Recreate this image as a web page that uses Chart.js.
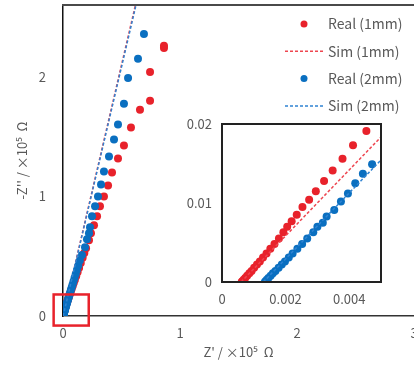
<!DOCTYPE html>
<html>
<head>
<meta charset="utf-8">
<script src="https://cdn.jsdelivr.net/npm/chart.js@4"></script>
<style>
  html, body { margin: 0; padding: 0; overflow: hidden; background: #fff; }
  #mainChart { position: absolute; left: 0; top: 0; }
  #insetChart { position: absolute; left: 170px; top: 110px; }
</style>
</head>
<body>
<canvas id="mainChart" width="440" height="372"></canvas>
<canvas id="insetChart" width="220" height="200"></canvas>
<script>
// values in units of 1e5 ohm
const real1X = [0.00062, 0.00064, 0.00068, 0.00073, 0.00079, 0.00086, 0.00093, 0.00101, 0.00110, 0.00119,
  0.00129, 0.00140, 0.00152, 0.00165, 0.00179, 0.00193, 0.00205, 0.00219, 0.00235, 0.00253,
  0.00274, 0.00295, 0.00321, 0.00348, 0.00379, 0.00412, 0.00454,
  0.00506, 0.00561, 0.00621, 0.00690, 0.00766, 0.00849, 0.00944, 0.01049, 0.01169, 0.01303,
  0.01453, 0.01619, 0.01805, 0.02014, 0.02248, 0.02506, 0.02797, 0.03118, 0.03493, 0.03879,
  0.04338, 0.04844, 0.05411, 0.06026, 0.06721, 0.07443, 0.08278, 0.09167, 0.1013, 0.1125,
  0.1245, 0.1372, 0.1517, 0.1679, 0.1824, 0.197,
  0.222, 0.239, 0.265, 0.291, 0.316, 0.350, 0.385, 0.419, 0.470, 0.521,
  0.581, 0.658, 0.744, 0.744, 0.863, 0.863];
const real1Y = [0.0000, 0.0001, 0.0003, 0.0005, 0.0008, 0.0011, 0.0014, 0.0018, 0.0022, 0.0026,
  0.0031, 0.0036, 0.0042, 0.0048, 0.0055, 0.0063, 0.0070, 0.0077, 0.0085, 0.0095,
  0.0104, 0.0115, 0.0128, 0.0141, 0.0156, 0.0173, 0.0191,
  0.0210, 0.0231, 0.0254, 0.0280, 0.0308, 0.0338, 0.0372, 0.0409, 0.0450, 0.0495,
  0.0545, 0.0599, 0.0659, 0.0725, 0.0798, 0.0877, 0.0965, 0.106, 0.117, 0.128,
  0.141, 0.155, 0.171, 0.188, 0.207, 0.227, 0.250, 0.275, 0.302, 0.333,
  0.366, 0.402, 0.443, 0.487, 0.527, 0.567,
  0.633, 0.692, 0.758, 0.833, 0.917, 1.00, 1.09, 1.20, 1.317, 1.425,
  1.575, 1.725, 1.80, 2.04, 2.24, 2.26];

const real2X = [0.00135, 0.00137, 0.00141, 0.00146, 0.00153, 0.00160, 0.00168, 0.00178, 0.00188, 0.00198,
  0.00210, 0.00222, 0.00237, 0.00252, 0.00268, 0.00287, 0.00300, 0.00317, 0.00329, 0.00353,
  0.00374, 0.00396, 0.00419, 0.00443, 0.00472,
  0.0051, 0.0055, 0.0060, 0.0065, 0.0071, 0.0078, 0.0086, 0.0095, 0.0105, 0.0116,
  0.0128, 0.0141, 0.0156, 0.0172, 0.0190, 0.0210, 0.0232, 0.0256, 0.0282, 0.0311,
  0.0343, 0.0378, 0.0416, 0.0459, 0.0506, 0.0556, 0.0612, 0.0674, 0.0740, 0.0814,
  0.0895, 0.0985, 0.1084, 0.1190, 0.1310, 0.1440, 0.1620,
  0.188, 0.205, 0.222, 0.231, 0.248, 0.274, 0.299, 0.325, 0.350, 0.393,
  0.436, 0.470, 0.521, 0.556, 0.641, 0.692];
const real2Y = [0.0000, 0.0001, 0.0003, 0.0005, 0.0008, 0.0011, 0.0014, 0.0018, 0.0022, 0.0026,
  0.0031, 0.0036, 0.0042, 0.0048, 0.0055, 0.0063, 0.0070, 0.0075, 0.0083, 0.0091,
  0.0102, 0.0112, 0.0125, 0.0137, 0.0149,
  0.0164, 0.0181, 0.0199, 0.0219, 0.0241, 0.0265, 0.0292, 0.0321, 0.0353, 0.0388,
  0.0427, 0.0470, 0.0517, 0.0569, 0.0626, 0.0689, 0.0758, 0.0834, 0.0917, 0.101,
  0.111, 0.122, 0.134, 0.148, 0.163, 0.179, 0.197, 0.217, 0.238, 0.262,
  0.288, 0.317, 0.349, 0.384, 0.422, 0.464, 0.511,
  0.575, 0.642, 0.692, 0.742, 0.833, 0.917, 1.00, 1.10, 1.208, 1.333,
  1.475, 1.60, 1.775, 1.99, 2.15, 2.358];

const sim1X = [0.0006, 1];
const sim1Y = [0, 4.2];
const sim2X = [0.0013, 1];
const sim2Y = [0, 4.17];

const seriesNames = ["Real (1mm)", "Sim (1mm)", "Real (2mm)", "Sim (2mm)"];
const mainXTicks = [0, 1, 2, 3];
const mainYTicks = [0, 1, 2];
const insetXTicks = [0, 0.002, 0.004];
const insetYTicks = [0, 0.01, 0.02];
const zoomBox = [-0.08, 0.22, -0.08, 0.18]; // x0, x1, y0, y1 of the red box

const RED = '#e8222b';
const BLUE = '#0a6fc0';
const RED_SIM = '#ee4650';
const BLUE_SIM = '#2f83d2';
const TXT = '#595959';
const FONT = "'Noto Sans CJK JP', 'Noto Sans', sans-serif";

function pts(xs, ys) {
    return xs.map((x, i) => ({ x: x, y: ys[i] }));
}

function makeDatasets() {
    return [
        { label: seriesNames[0], data: pts(real1X, real1Y), showLine: false, pointRadius: 4, pointBorderWidth: 0,
          backgroundColor: RED, borderColor: RED, order: 4 },
        { label: seriesNames[1], data: pts(sim1X, sim1Y), showLine: true, pointRadius: 0, borderWidth: 1.5,
          borderDash: [3, 2], borderColor: RED_SIM, order: 3 },
        { label: seriesNames[2], data: pts(real2X, real2Y), showLine: false, pointRadius: 4, pointBorderWidth: 0,
          backgroundColor: BLUE, borderColor: BLUE, order: 2 },
        { label: seriesNames[3], data: pts(sim2X, sim2Y), showLine: true, pointRadius: 0, borderWidth: 1.5,
          borderDash: [3, 2], borderColor: BLUE_SIM, order: 1 }
    ];
}

function setTicks(list) {
    return scale => { scale.ticks = list.map(v => ({ value: v })); };
}

// fix axis box sizes and drop the label overhang padding
function fixSize(w, h) {
    return s => {
        if (w !== null) s.width = w;
        if (h !== null) s.height = h;
        s.paddingTop = 0; s.paddingBottom = 0; s.paddingLeft = 0; s.paddingRight = 0;
    };
}

const mainDecor = {
    id: 'mainDecor',
    afterDraw(chart) {
        const ctx = chart.ctx;
        const a = chart.chartArea;
        const xs = chart.scales.x, ys = chart.scales.y;
        ctx.save();
        // top frame line
        ctx.strokeStyle = '#4a4a4a';
        ctx.lineWidth = 2;
        ctx.beginPath();
        ctx.moveTo(a.left - 1, a.top);
        ctx.lineTo(chart.width, a.top);
        ctx.stroke();
        // red zoom box
        const bx0 = xs.getPixelForValue(zoomBox[0]), bx1 = xs.getPixelForValue(zoomBox[1]);
        const by0 = ys.getPixelForValue(zoomBox[2]), by1 = ys.getPixelForValue(zoomBox[3]);
        ctx.strokeStyle = RED;
        ctx.lineWidth = 2.5;
        ctx.strokeRect(bx0, by1, bx1 - bx0, by0 - by1);
        // legend
        ctx.font = "14px " + FONT;
        ctx.textBaseline = 'middle';
        const colors = [RED, RED_SIM, BLUE, BLUE_SIM];
        seriesNames.forEach((name, i) => {
            const y = 24 + i * 27.3;
            if (i % 2 === 0) {
                ctx.fillStyle = colors[i];
                ctx.beginPath();
                ctx.arc(304, y, 3.5, 0, Math.PI * 2);
                ctx.fill();
            } else {
                ctx.strokeStyle = colors[i];
                ctx.lineWidth = 1.5;
                ctx.setLineDash([3, 2]);
                ctx.beginPath();
                ctx.moveTo(285, y);
                ctx.lineTo(323, y);
                ctx.stroke();
                ctx.setLineDash([]);
            }
            ctx.fillStyle = TXT;
            ctx.fillText(name, 328, y);
        });
        ctx.restore();
    }
};

const insetFrame = {
    id: 'insetFrame',
    beforeDatasetsDraw(chart) {
        const ctx = chart.ctx;
        const a = chart.chartArea;
        ctx.save();
        ctx.fillStyle = '#fff';
        ctx.fillRect(a.left, a.top, a.right - a.left, a.bottom - a.top);
        ctx.restore();
    },
    afterDraw(chart) {
        const ctx = chart.ctx;
        const a = chart.chartArea;
        ctx.save();
        ctx.strokeStyle = '#222';
        ctx.lineWidth = 2;
        ctx.strokeRect(a.left, a.top, a.right - a.left, a.bottom - a.top);
        ctx.restore();
    }
};

document.addEventListener("DOMContentLoaded", () => {
    const tickFont = { family: FONT, size: 13 };

    new Chart(document.getElementById("mainChart"), {
        type: 'scatter',
        data: { datasets: makeDatasets() },
        options: {
            responsive: false,
            animation: false,
            layout: { padding: { top: 5, right: 26, left: 0, bottom: 0 } },
            plugins: { legend: { display: false }, tooltip: { enabled: false } },
            scales: {
                x: {
                    type: 'linear', min: 0, max: 3,
                    afterBuildTicks: setTicks(mainXTicks),
                    afterFit: fixSize(null, 56),
                    grid: { display: false, drawTicks: false },
                    border: { display: true, color: '#333', width: 1.5 },
                    ticks: { color: TXT, font: tickFont, padding: 9, callback: v => String(v) },
                    title: { display: true, text: "Z' / ×10⁵  Ω", color: TXT, font: tickFont, padding: { top: 0, bottom: 12 } }
                },
                y: {
                    type: 'linear', min: 0, max: 2.6,
                    afterBuildTicks: setTicks(mainYTicks),
                    afterFit: fixSize(63, null),
                    grid: { display: false, drawTicks: false },
                    border: { display: true, color: '#111', width: 1.5 },
                    ticks: { color: TXT, font: tickFont, padding: 17, callback: v => String(v) },
                    title: { display: true, text: "-Z'' / ×10⁵  Ω", color: TXT, font: tickFont, padding: { top: 14, bottom: 0 } }
                }
            }
        },
        plugins: [mainDecor]
    });

    new Chart(document.getElementById("insetChart"), {
        type: 'scatter',
        data: { datasets: makeDatasets() },
        options: {
            responsive: false,
            animation: false,
            layout: { padding: { top: 14, right: 9, left: 0, bottom: 0 } },
            plugins: { legend: { display: false }, tooltip: { enabled: false } },
            scales: {
                x: {
                    type: 'linear', min: 0, max: 0.005,
                    afterBuildTicks: setTicks(insetXTicks),
                    afterFit: fixSize(null, 28),
                    grid: { display: false, drawTicks: false },
                    border: { display: false },
                    ticks: { color: TXT, font: tickFont, padding: 9, callback: v => String(v) }
                },
                y: {
                    type: 'linear', min: 0, max: 0.02,
                    afterBuildTicks: setTicks(insetYTicks),
                    afterFit: fixSize(52, null),
                    grid: { display: false, drawTicks: false },
                    border: { display: false },
                    ticks: { color: TXT, font: tickFont, padding: 10, callback: v => String(v) }
                }
            }
        },
        plugins: [insetFrame]
    });
});
</script>
</body>
</html>
